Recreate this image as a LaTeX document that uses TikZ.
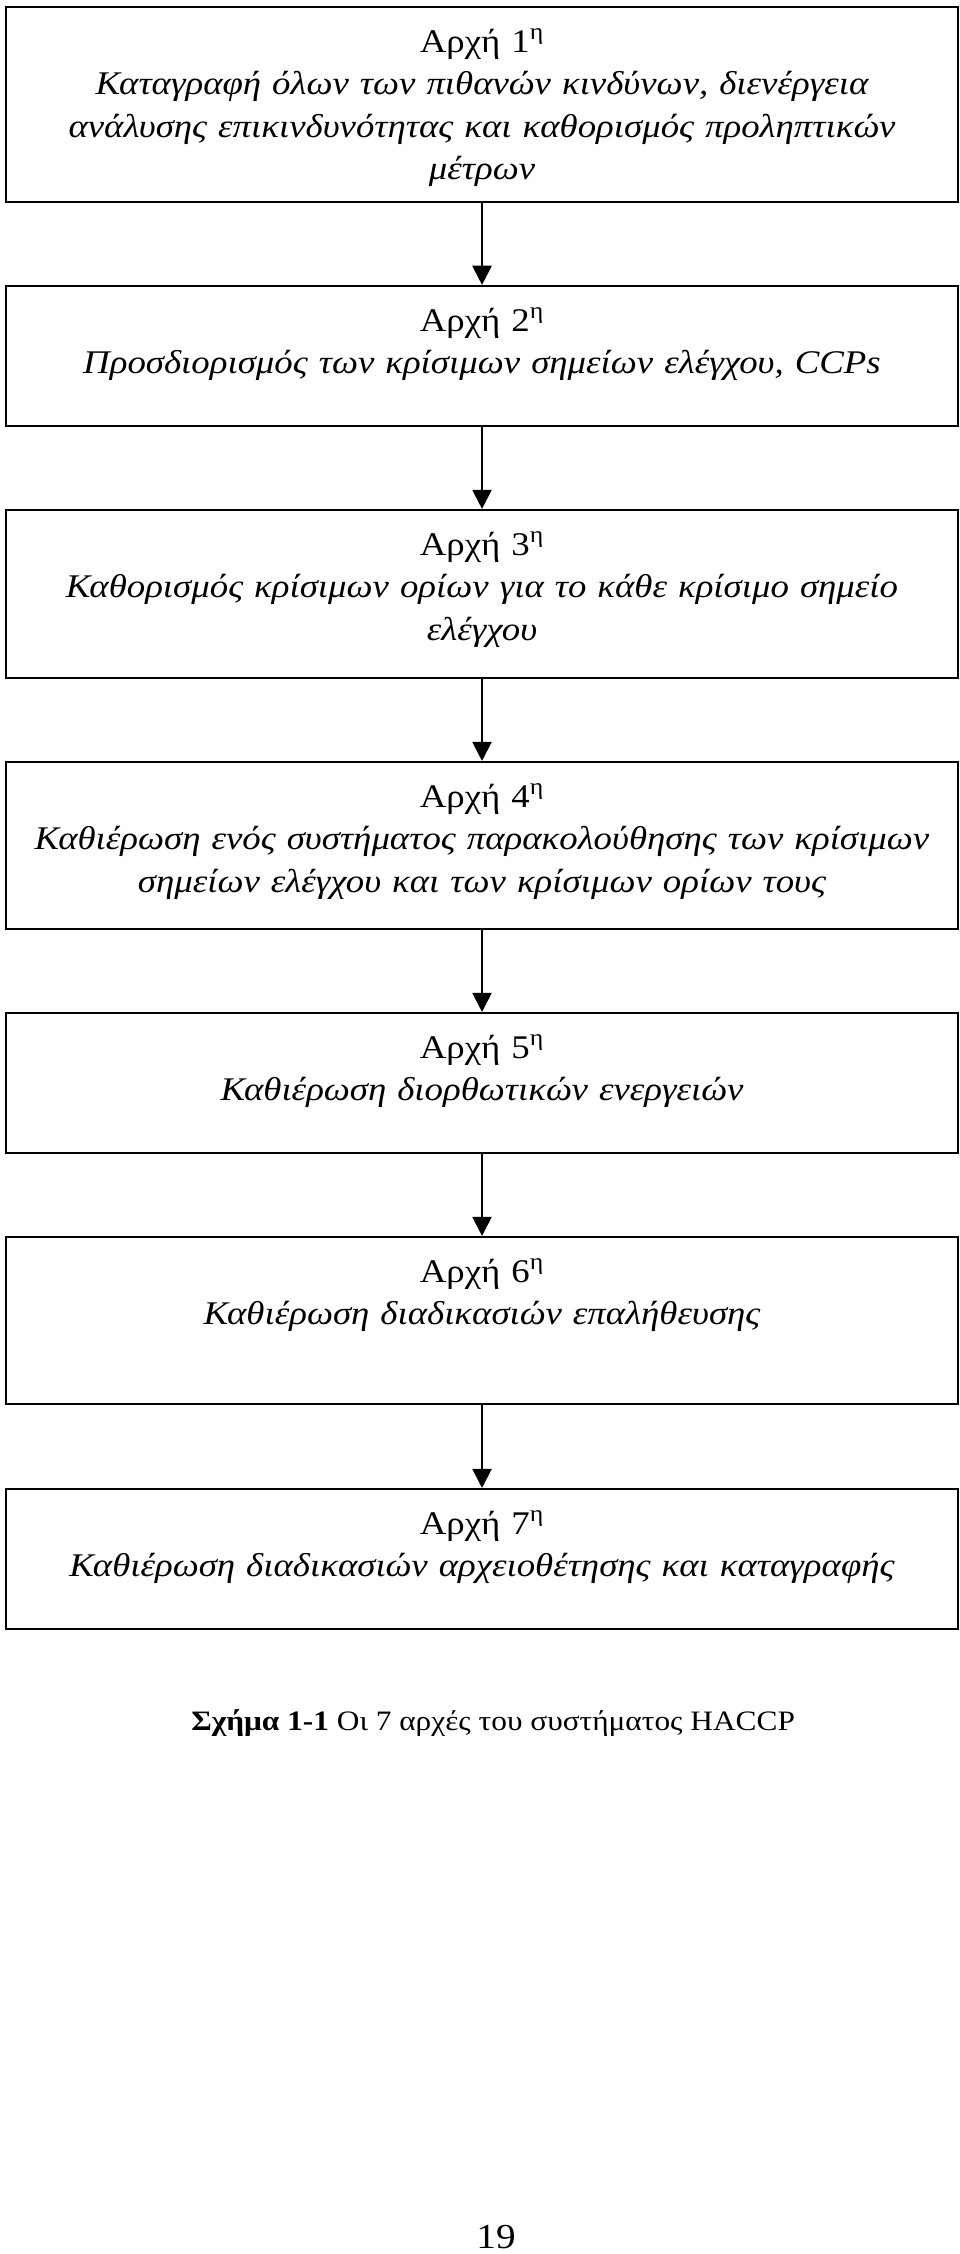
\documentclass[tikz,border=0pt]{standalone}
\usepackage{fontspec}
\setmainfont{Liberation Serif}[FakeStretch=1.115]
\usepackage{tikz}
\usetikzlibrary{arrows.meta}

\begin{document}
\begin{tikzpicture}[box_node/.style={rectangle,draw,line width=1.5pt,minimum width=23.8cm,inner sep=0pt},
	text_node/.style={anchor=base,text width=23cm,align=center,inner sep=0pt,font=\fontsize{23.5}{30.2}\selectfont},
	arrow_line/.style={line width=1.5pt,-{Triangle[length=0.48cm,width=0.48cm]}}]
	    \useasboundingbox (0,0) rectangle (24,-56.35);
	    \node[box_node,minimum height=4.875cm] (1) at (12.05,-2.6125) {};
	    \node[box_node,minimum height=3.5cm] (2) at (12.05,-8.9) {};
	    \node[box_node,minimum height=4.2cm] (3) at (12.05,-14.85) {};
	    \node[box_node,minimum height=4.175cm] (4) at (12.05,-21.1375) {};
	    \node[box_node,minimum height=3.5cm] (5) at (12.05,-27.075) {};
	    \node[box_node,minimum height=4.175cm] (6) at (12.05,-33.0125) {};
	    \node[box_node,minimum height=3.5cm] (7) at (12.05,-38.975) {};
	    
	    \node[text_node] (t1) at ([yshift=-1.16cm]1.north) {Αρχή 1\textsuperscript{η}\\\itshape Καταγραφή όλων των πιθανών κινδύνων, διενέργεια\\ανάλυσης επικινδυνότητας και καθορισμός προληπτικών\\μέτρων};
	    \node[text_node] (t2) at ([yshift=-1.16cm]2.north) {Αρχή 2\textsuperscript{η}\\\itshape Προσδιορισμός των κρίσιμων σημείων ελέγχου, CCPs};
	    \node[text_node] (t3) at ([yshift=-1.16cm]3.north) {Αρχή 3\textsuperscript{η}\\\itshape Καθορισμός κρίσιμων ορίων για το κάθε κρίσιμο σημείο\\ελέγχου};
	    \node[text_node] (t4) at ([yshift=-1.16cm]4.north) {Αρχή 4\textsuperscript{η}\\\itshape Καθιέρωση ενός συστήματος παρακολούθησης των κρίσιμων\\σημείων ελέγχου και των κρίσιμων ορίων τους};
	    \node[text_node] (t5) at ([yshift=-1.16cm]5.north) {Αρχή 5\textsuperscript{η}\\\itshape Καθιέρωση διορθωτικών ενεργειών};
	    \node[text_node] (t6) at ([yshift=-1.16cm]6.north) {Αρχή 6\textsuperscript{η}\\\itshape Καθιέρωση διαδικασιών επαλήθευσης};
	    \node[text_node] (t7) at ([yshift=-1.16cm]7.north) {Αρχή 7\textsuperscript{η}\\\itshape Καθιέρωση διαδικασιών αρχειοθέτησης και καταγραφής};
	    
	    \node[anchor=base,inner sep=0pt,font=\fontsize{20}{24}\selectfont] (cap) at (12.33,-43.27) {\textbf{Σχήμα 1-1} Οι 7 αρχές του συστήματος HACCP};
	    \node[anchor=base,inner sep=0pt,font=\fontsize{25}{30}\selectfont] (pg) at (12.4,-56.2) {19};
	    
	    \draw[arrow_line] (1) -- (2);
	    \draw[arrow_line] (2) -- (3);
	    \draw[arrow_line] (3) -- (4);
	    \draw[arrow_line] (4) -- (5);
	    \draw[arrow_line] (5) -- (6);
	    \draw[arrow_line] (6) -- (7);
        \end{tikzpicture}
\end{document}
